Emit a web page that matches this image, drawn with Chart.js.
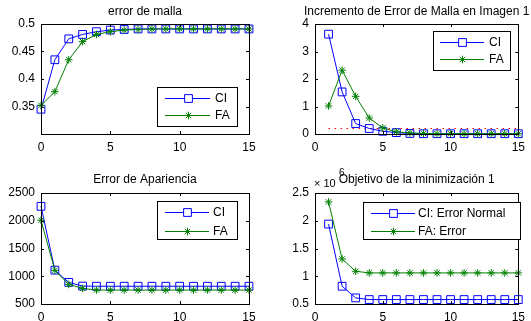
<!DOCTYPE html>
<html>
<head>
<meta charset="utf-8">
<script src="https://cdn.jsdelivr.net/npm/chart.js@4"></script>
<style>
  body { margin: 0; background: #fff; }
  #wrap { position: relative; width: 531px; height: 321px; overflow: hidden; }
  canvas { position: absolute; }
</style>
</head>
<body>
<div id="wrap">
  <canvas id="c1" width="265" height="160" style="left:0;top:0"></canvas>
  <canvas id="c2" width="266" height="160" style="left:265px;top:0"></canvas>
  <canvas id="c3" width="265" height="161" style="left:0;top:160px"></canvas>
  <canvas id="c4" width="266" height="161" style="left:265px;top:160px"></canvas>
</div>
<script>
// iterations
const iters = [0, 1, 2, 3, 4, 5, 6, 7, 8, 9, 10, 11, 12, 13, 14, 15];
const itersFrom1 = [1, 2, 3, 4, 5, 6, 7, 8, 9, 10, 11, 12, 13, 14, 15];

// error de malla
const mallaCI = [0.345, 0.435, 0.473, 0.481, 0.486, 0.489, 0.490, 0.491, 0.491, 0.491, 0.491, 0.491, 0.491, 0.491, 0.491, 0.491];
const mallaFA = [0.352, 0.377, 0.435, 0.468, 0.481, 0.486, 0.489, 0.490, 0.491, 0.491, 0.491, 0.491, 0.491, 0.491, 0.491, 0.491];

// incremento de error de malla
const incCI = [3.63, 1.53, 0.38, 0.20, 0.10, 0.05, 0.02, 0.01, 0.01, 0.01, 0.01, 0.01, 0.01, 0.01, 0.01];
const incFA = [1.02, 2.32, 1.37, 0.58, 0.22, 0.08, 0.04, 0.02, 0.01, 0.01, 0.01, 0.01, 0.01, 0.01, 0.01];
const incUmbral = 0.2;

// error de apariencia
const aparCI = [2260, 1110, 889, 823, 820, 820, 820, 820, 820, 820, 820, 820, 820, 820, 820, 820];
const aparFA = [2009, 1105, 853, 781, 752, 751, 751, 751, 751, 751, 751, 751, 751, 751, 751, 751];

// objetivo de la minimizacion
const objCI = [1940000, 820000, 610000, 580000, 580000, 580000, 580000, 580000, 580000, 580000, 580000, 580000, 580000, 580000, 580000];
const objFA = [2340000, 1310000, 1090000, 1060000, 1060000, 1060000, 1060000, 1060000, 1060000, 1060000, 1060000, 1060000, 1060000, 1060000, 1060000];

// tick labels
const xTicks = [0, 5, 10, 15];
const mallaTicks = [0.35, 0.4, 0.45, 0.5];
const incTicks = [0, 1, 2, 3, 4];
const aparTicks = [500, 1000, 1500, 2000, 2500];
const objTicks = [500000, 1000000, 1500000, 2000000, 2500000];

const FONT = 'Liberation Sans, Arial, sans-serif';
const BLUE = '#0000ff';
const GREEN = '#008000';

function pts(xs, ys) {
  return xs.map((x, i) => ({ x: x, y: ys[i] }));
}

function ciSet(label, data) {
  return {
    label: label, data: data, borderColor: BLUE, backgroundColor: 'transparent',
    borderWidth: 1, pointStyle: 'rect', pointRadius: 5.5, pointBorderColor: BLUE,
    pointBorderWidth: 1, pointBackgroundColor: 'transparent', clip: false, order: 2
  };
}
function faSet(label, data) {
  return {
    label: label, data: data, borderColor: GREEN, backgroundColor: 'transparent',
    borderWidth: 1, pointStyle: 'star', pointRadius: 3.8, pointBorderColor: GREEN,
    pointBorderWidth: 1, pointBackgroundColor: GREEN, clip: false, order: 1
  };
}

// matlab-like box, inner ticks, title and legend
const matlabPlugin = {
  id: 'matlab',
  afterDraw(chart, args, opts) {
    const ctx = chart.ctx;
    const a = chart.chartArea;
    ctx.save();
    ctx.strokeStyle = '#000';
    ctx.lineWidth = 1;
    ctx.strokeRect(Math.round(a.left) + 0.5, Math.round(a.top) + 0.5,
                   Math.round(a.right - a.left), Math.round(a.bottom - a.top));
    const xs = chart.scales.x, ys = chart.scales.y;
    ctx.beginPath();
    xs.ticks.forEach(t => {
      const px = Math.round(xs.getPixelForValue(t.value)) + 0.5;
      ctx.moveTo(px, a.bottom); ctx.lineTo(px, a.bottom - 3);
      ctx.moveTo(px, a.top); ctx.lineTo(px, a.top + 3);
    });
    ys.ticks.forEach(t => {
      const py = Math.round(ys.getPixelForValue(t.value)) + 0.5;
      ctx.moveTo(a.left, py); ctx.lineTo(a.left + 3, py);
      ctx.moveTo(a.right, py); ctx.lineTo(a.right - 3, py);
    });
    ctx.stroke();

    // title
    ctx.fillStyle = '#000';
    ctx.font = '12px ' + FONT;
    ctx.textAlign = 'center';
    ctx.textBaseline = 'middle';
    ctx.fillText(opts.title, (a.left + a.right) / 2, a.top - opts.titleGap);

    // exponent label
    if (opts.exponent) {
      ctx.textAlign = 'left';
      ctx.font = '11px ' + FONT;
      ctx.fillText('\u00d7 10', a.left - 1, a.top - 9);
      ctx.font = '10px ' + FONT;
      ctx.fillText(opts.exponent, a.left + 24, a.top - 20);
    }

    // legend
    const L = opts.legend;
    ctx.fillStyle = '#fff';
    ctx.fillRect(L.x, L.y, L.w, L.h);
    ctx.strokeStyle = '#000';
    ctx.strokeRect(L.x + 0.5, L.y + 0.5, L.w, L.h);
    ctx.font = '12px ' + FONT;
    ctx.textAlign = 'left';
    chart.data.datasets.forEach((ds, i) => {
      if (ds.hideInLegend) return;
      const ry = L.y + L.row0 + i * L.rowGap;
      ctx.strokeStyle = ds.borderColor;
      ctx.lineWidth = 1;
      ctx.beginPath();
      ctx.moveTo(L.x + L.line0, ry + 0.5);
      ctx.lineTo(L.x + L.line1, ry + 0.5);
      ctx.stroke();
      Chart.helpers.drawPoint(ctx, {
        pointStyle: ds.pointStyle, radius: ds.pointRadius, borderWidth: 1, rotation: 0
      }, Math.round((L.x + (L.line0 + L.line1) / 2)) + 0.5, ry + 0.5);
      ctx.fillStyle = '#000';
      ctx.fillText(ds.label, L.x + L.text, ry + 1);
    });
    ctx.restore();
  }
};

function makeChart(id, datasets, cfg) {
  return new Chart(document.getElementById(id), {
    type: 'line',
    data: { datasets: datasets },
    plugins: [matlabPlugin],
    options: {
      responsive: false,
      animation: false,
      layout: { padding: cfg.padding },
      plugins: {
        legend: { display: false },
        tooltip: { enabled: false },
        matlab: cfg.matlab
      },
      scales: {
        x: {
          type: 'linear', min: 0, max: 15,
          grid: { display: false, drawTicks: false }, border: { display: false },
          afterBuildTicks: s => { s.ticks = xTicks.map(v => ({ value: v })); },
          afterFit: s => { s.height = cfg.xHeight; },
          ticks: { color: '#000', padding: 6, maxRotation: 0, font: { family: FONT, size: 12 } }
        },
        y: {
          min: cfg.yMin, max: cfg.yMax,
          grid: { display: false, drawTicks: false }, border: { display: false },
          afterBuildTicks: s => { s.ticks = cfg.yTicks.map(v => ({ value: v })); },
          afterFit: s => { s.width = cfg.yWidth; },
          ticks: { color: '#000', padding: 6, font: { family: FONT, size: 12 },
                   callback: cfg.yFormat || (v => String(v)) }
        }
      }
    }
  });
}

makeChart('c1', [ciSet('CI', pts(iters, mallaCI)), faSet('FA', pts(iters, mallaFA))], {
  padding: { left: 0, right: 16, top: 24, bottom: 0 },
  xHeight: 26, yWidth: 41, yMin: 0.3, yMax: 0.5, yTicks: mallaTicks,
  matlab: { title: 'error de malla', titleGap: 12,
    legend: { x: 157, y: 87, w: 80, h: 39, row0: 11, rowGap: 17, line0: 8, line1: 53, text: 58 } }
});

makeChart('c2', [
  ciSet('CI', pts(itersFrom1, incCI)),
  faSet('FA', pts(itersFrom1, incFA)),
  { label: 'umbral', hideInLegend: true, data: [{ x: 1, y: incUmbral }, { x: 15, y: incUmbral }],
    borderColor: '#ff0000', borderWidth: 1, borderDash: [1.5, 4.5], pointRadius: 0, order: 3 }
], {
  padding: { left: 0, right: 9, top: 24, bottom: 0 },
  xHeight: 26, yWidth: 50, yMin: 0, yMax: 4, yTicks: incTicks,
  matlab: { title: 'Incremento de Error de Malla en Imagen 1', titleGap: 12,
    legend: { x: 168, y: 31, w: 77, h: 39, row0: 11, rowGap: 17, line0: 7, line1: 51, text: 56 } }
});

makeChart('c3', [ciSet('CI', pts(iters, aparCI)), faSet('FA', pts(iters, aparFA))], {
  padding: { left: 0, right: 16, top: 33, bottom: 0 },
  xHeight: 17, yWidth: 41, yMin: 500, yMax: 2500, yTicks: aparTicks,
  matlab: { title: 'Error de Apariencia', titleGap: 13,
    legend: { x: 157, y: 41, w: 80, h: 38, row0: 11, rowGap: 19, line0: 8, line1: 52, text: 56 } }
});

makeChart('c4', [ciSet('CI: Error Normal', pts(itersFrom1, objCI)), faSet('FA: Error', pts(itersFrom1, objFA))], {
  padding: { left: 0, right: 9, top: 33, bottom: 0 },
  xHeight: 17, yWidth: 50, yMin: 500000, yMax: 2500000, yTicks: objTicks,
  yFormat: v => String(v / 1000000),
  matlab: { title: 'Objetivo de la minimizaci\u00f3n 1', titleGap: 13, exponent: '6',
    legend: { x: 98, y: 42, w: 157, h: 37, row0: 11, rowGap: 18, line0: 8, line1: 52, text: 55 } }
});
</script>
</body>
</html>
